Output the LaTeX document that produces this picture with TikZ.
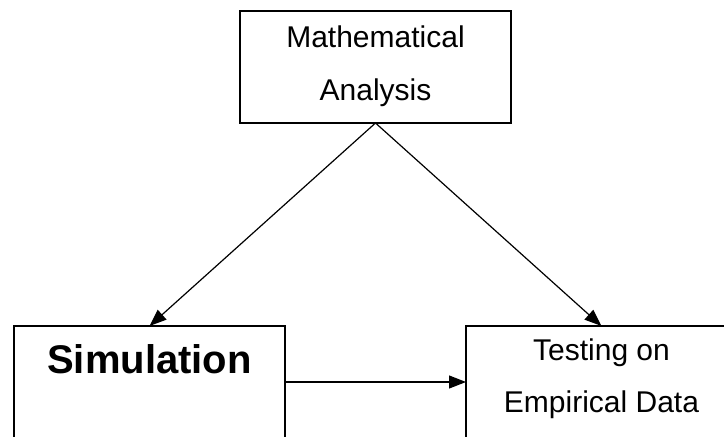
\documentclass[tikz,border=0pt]{standalone}
\usepackage{fontspec}
\setmainfont{Liberation Sans}
\usetikzlibrary{arrows.meta}
\begin{document}
\begin{tikzpicture}[x=1pt,y=-1pt,
  box/.style={draw=black,line width=1.3pt,minimum width=271pt,minimum height=112pt,inner sep=0pt,outer sep=0pt},
  lbl/.style={anchor=base,inner sep=0pt,font=\fontsize{30}{36}\selectfont},
  biglbl/.style={anchor=base,inner sep=0pt,font=\fontsize{40}{48}\selectfont\bfseries},
  link/.style={line width=1.2pt,-{Triangle[length=17pt,width=13pt]}}]
\useasboundingbox (0,0) rectangle (724,437);
% the three boxes
\node[box] (ma)  at (375.5,67) {};
\node[box] (sim) at (149.5,382) {};
\node[box] (emp) at (601.5,382) {};
% box texts
\node[lbl] (maA) at (375.5,47) {Mathematical};
\node[lbl] (maB) at (375.5,100) {Analysis};
\node[biglbl] (simT) at (149.5,373) {Simulation};
\node[lbl] (empA) at (601.5,360) {Testing on};
\node[lbl] (empB) at (601.5,412) {Empirical Data};
% connectors
\draw[link] (ma.south) -- (sim.north);
\draw[link] (ma.south) -- (emp.north);
\draw[link] (sim.east) -- (emp.west);
\end{tikzpicture}
\end{document}
